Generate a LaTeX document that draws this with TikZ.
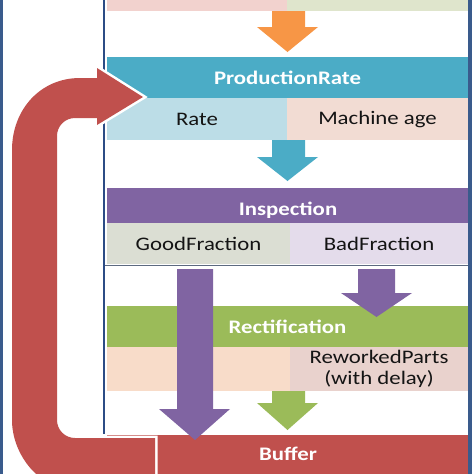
\documentclass[tikz,border=0pt]{standalone}
\usepackage{fontspec}
\setmainfont{Carlito}[FakeStretch=1.19]
\definecolor{frameblue}{HTML}{3A5B8C}
\definecolor{innerblue}{HTML}{2C4C85}
\definecolor{topL}{HTML}{F2D2CE}
\definecolor{topR}{HTML}{DFE5CC}
\definecolor{tealbar}{HTML}{4BACC6}
\definecolor{rateC}{HTML}{BCDDE7}
\definecolor{machC}{HTML}{F2DCD3}
\definecolor{purplebar}{HTML}{8064A2}
\definecolor{goodC}{HTML}{DBDED3}
\definecolor{badC}{HTML}{E4DCEB}
\definecolor{greenbar}{HTML}{9BBB59}
\definecolor{rlC}{HTML}{F8DCC9}
\definecolor{rrC}{HTML}{E9D2CD}
\definecolor{redbar}{HTML}{C0504D}
\definecolor{orangeA}{HTML}{F79646}
\definecolor{sepline}{HTML}{5D6A80}
\begin{document}
\begin{tikzpicture}[x=0.02cm,y=-0.02cm,
  box/.style={inner sep=0pt, outer sep=0pt, draw=none},
  bar/.style={box, text=white, text depth=0pt, font=\bfseries\fontsize{10.9}{12}\selectfont},
  cell/.style={box, text=black!92, font=\fontsize{10.9}{12.2}\selectfont, align=center},
  blockarrow/.style={fill=#1, draw=none}
]
\useasboundingbox (0,0) rectangle (474,474);
% frame
\fill[frameblue] (0,0) rectangle (3.5,474);
\fill[frameblue] (468,0) rectangle (472,474);
\draw[innerblue, line width=2*0.02cm] (104,0) -- (104,434);
% top band
\node[box, fill=topL, minimum width=180*0.02cm, minimum height=11*0.02cm] (topl) at (197,5.5) {};
\node[box, fill=topR, minimum width=181*0.02cm, minimum height=11*0.02cm] (topr) at (377.5,5.5) {};
% production rate
\node[bar, fill=tealbar, minimum width=361*0.02cm, minimum height=41*0.02cm] (prod) at (287.5,77.5) {ProductionRate};
\node[cell, fill=rateC, minimum width=180*0.02cm, minimum height=42*0.02cm] (rate) at (197,119) {Rate};
\node[cell, fill=machC, minimum width=181*0.02cm, minimum height=42*0.02cm] (mach) at (377.5,119) {Machine age};
% inspection
\node[bar, fill=purplebar, minimum width=361*0.02cm, minimum height=35*0.02cm] (insp) at (287.5,205.5) {};
\node[bar] (insptext) at (288,208.5) {Inspection};
\node[cell, fill=goodC, minimum width=183*0.02cm, minimum height=41*0.02cm] (good) at (198.5,243.5) {GoodFraction};
\node[cell, fill=badC, minimum width=178*0.02cm, minimum height=41*0.02cm] (bad) at (379,243.5) {BadFraction};
\draw[sepline, line width=1.5*0.02cm] (105,265.5) -- (468,265.5);
% rectification
\node[bar, fill=greenbar, minimum width=361*0.02cm, minimum height=41*0.02cm] (rect) at (287.5,326.5) {Rectification};
\node[box, fill=rlC, minimum width=183*0.02cm, minimum height=44*0.02cm] (rl) at (198.5,369) {};
\node[cell, fill=rrC, minimum width=178*0.02cm, minimum height=44*0.02cm] (rr) at (379,369) {ReworkedParts\\(with delay)};
% buffer
\node[bar, fill=redbar, minimum width=361*0.02cm, minimum height=40*0.02cm, anchor=north] (buf) at (287.5,435) {};
\node[bar] (buftext) at (288,454) {Buffer};
% block arrows
\fill[blockarrow=orangeA] (272,11) -- (305,11) -- (305,27) -- (318,27) -- (287.5,52) -- (257,27) -- (272,27) -- cycle;
\fill[blockarrow=tealbar] (272,140) -- (305,140) -- (305,157) -- (318,157) -- (287.5,181) -- (257,157) -- (272,157) -- cycle;
\fill[blockarrow=purplebar] (358,269) -- (395,269) -- (395,293) -- (412,293) -- (376.5,317) -- (341,293) -- (358,293) -- cycle;
\fill[blockarrow=greenbar] (272,391) -- (305,391) -- (305,403) -- (318,403) -- (287.5,430) -- (257,403) -- (272,403) -- cycle;
\fill[blockarrow=purplebar] (177,269) -- (213,269) -- (213,409) -- (230,409) -- (195,440) -- (159,409) -- (177,409) -- cycle;
% feedback loop
\path[fill=redbar, preaction={draw=white, line width=5*0.02cm, line join=miter}]
  (97,78) -- (97,68) -- (143,97) -- (97,125) -- (97,118) -- (75,118)
  .. controls (65,118) and (57,126) .. (57,136)
  -- (57,420)
  .. controls (57,430) and (65,438) .. (75,438)
  -- (155,438) -- (155,490) -- (75,490)
  .. controls (40,490) and (12,455) .. (12,420)
  -- (12,150)
  .. controls (12,110) and (40,78) .. (80,78)
  -- cycle;
\end{tikzpicture}
\end{document}
